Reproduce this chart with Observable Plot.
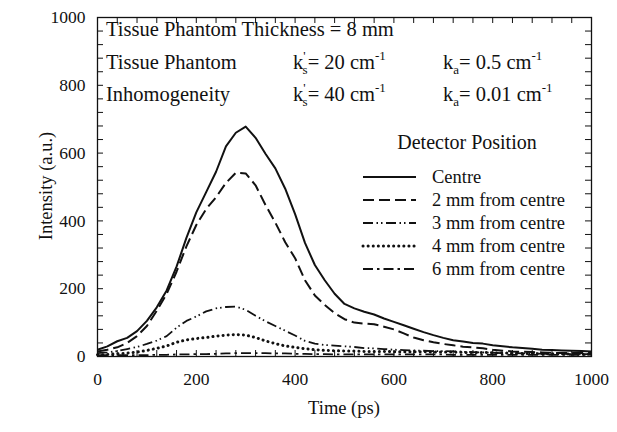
<!DOCTYPE html>
<html><head><meta charset="utf-8">
<script src="https://cdn.jsdelivr.net/npm/d3@7"></script>
<script src="https://cdn.jsdelivr.net/npm/@observablehq/plot@0.6"></script>
<style>
html,body{margin:0;padding:0;background:#fff;}
</style>
</head><body><div id="chart"></div>
<script>
// Data
const time = [0,20,40,60,80,100,120,140,160,180,200,220,240,260,280,300,320,340,360,380,400,420,440,460,480,500,520,540,560,580,600,620,640,660,680,700,720,740,760,780,800,820,840,860,880,900,920,940,960,980,1000];
const centre = [20,30,45,55,75,105,145,195,265,350,425,485,545,620,660,678,645,598,555,495,420,335,270,225,185,155,142,132,124,112,102,92,82,72,63,55,48,44,40,38,33,30,27,25,23,20,19,18,17,16,15];
const mm2 = [15,20,27,40,60,90,135,185,250,325,388,435,470,512,542,540,505,447,395,337,290,225,180,152,128,110,100,97,95,88,80,68,56,48,42,37,33,29,27,24,20,17,15,14,13,12,11,10,10,10,10];
const mm3 = [10,12,16,22,28,37,47,60,85,105,118,133,142,146,147,138,120,104,90,76,62,46,38,34,32,30,28,25,24,22,20,19,18,17,16,16,15,14,13,12,11,10,10,9,9,8,8,8,7,7,7];
const mm4 = [5,6,8,10,13,18,24,31,42,49,53,56,60,63,65,63,56,46,38,31,27,23,20,18,17,16,16,15,15,15,14,14,14,14,13,13,13,12,12,12,11,10,10,9,9,8,8,8,7,7,7];
const mm6 = [4,4,4,4,4,4,5,5,6,6,7,7,8,9,10,10,10,10,9,9,8,8,7,7,6,6,6,6,6,6,6,6,6,6,6,6,5,5,5,5,5,5,5,5,5,5,5,5,5,5,5];
const seriesNames = ["Centre","2 mm from centre","3 mm from centre","4 mm from centre","6 mm from centre"];
const seriesValues = [centre, mm2, mm3, mm4, mm6];
const xTicks = [0,200,400,600,800,1000];
const yTicks = [0,200,400,600,800,1000];
const minorTicks = d3.range(0, 1001, 40);

const styles = [
  {dash: null, width: 2, cap: "butt"},
  {dash: "11,5", width: 2, cap: "butt"},
  {dash: "10,3.5,1.5,3,1.5,3.5", width: 1.8, cap: "butt"},
  {dash: "0.1,5", width: 3, cap: "round"},
  {dash: "10,4,2.5,4", width: 1.8, cap: "butt"}
];

const tables = seriesValues.map((vals, i) => time.map((t, j) => ({t, v: vals[j], s: seriesNames[i]})));

const FONT = '"Liberation Serif", Tinos, "DejaVu Serif", serif';
const W = 617, H = 432;
const mT = 17, mR = 26, mB = 76, mL = 97;
const fw = W - mL - mR, fh = H - mT - mB;
const TL = 6;

const marks = [
  Plot.frame({stroke: "#111", strokeWidth: 1.3}),
  Plot.tickX(minorTicks, {x: d => d, insetTop: fh - TL, stroke: "#111", strokeWidth: 1}),
  Plot.tickX(minorTicks, {x: d => d, insetBottom: fh - TL, stroke: "#111", strokeWidth: 1}),
  Plot.tickY(minorTicks, {y: d => d, insetRight: fw - TL, stroke: "#111", strokeWidth: 1}),
  Plot.tickY(minorTicks, {y: d => d, insetLeft: fw - TL, stroke: "#111", strokeWidth: 1}),
  Plot.axisX(xTicks, {tickSize: 0, tickPadding: 16, label: null, tickFormat: d => String(d), fontSize: 17.5}),
  Plot.axisY(yTicks, {tickSize: 0, tickPadding: 12, label: null, tickFormat: d => String(d), fontSize: 17.5}),
];
tables.forEach((tb, i) => {
  const st = styles[i];
  const o = {x: "t", y: "v", stroke: "#111", strokeWidth: st.width, strokeLinecap: st.cap, strokeLinejoin: "round"};
  if (st.dash) o.strokeDasharray = st.dash;
  marks.push(Plot.line(tb, o));
});

const chart = Plot.plot({
  width: W, height: H,
  marginTop: mT, marginRight: mR, marginBottom: mB, marginLeft: mL,
  x: {domain: [0, 1000]},
  y: {domain: [0, 1000]},
  style: {fontFamily: FONT, fontSize: "17.5px", color: "#111", background: "#fff"},
  marks
});
document.getElementById("chart").appendChild(chart);

const svg = d3.select(chart);
const g = svg.append("g").attr("font-family", FONT).attr("fill", "#111").attr("text-anchor", "start");

// axis labels
g.append("text").attr("x", 344).attr("y", 414).attr("text-anchor", "middle").attr("font-size", 18.5).text("Time (ps)");
g.append("text").attr("transform", "translate(52,186) rotate(-90)").attr("text-anchor", "middle").attr("font-size", 18.5).text("Intensity (a.u.)");

// annotation
const fs = 20.5, small = 13;
g.append("text").attr("x", 106).attr("y", 36).attr("font-size", fs).text("Tissue Phantom Thickness = 8 mm");
function kline(y, label, ks, ka) {
  g.append("text").attr("x", 106).attr("y", y).attr("font-size", fs).text(label);
  const t1 = g.append("text").attr("x", 293).attr("y", y).attr("font-size", fs);
  t1.append("tspan").text("k");
  t1.append("tspan").attr("font-size", small).attr("dy", -9).text("'");
  t1.append("tspan").attr("font-size", small).attr("dx", -3).attr("dy", 14).text("s");
  t1.append("tspan").attr("dy", -5).text("= " + ks + " cm");
  t1.append("tspan").attr("font-size", small).attr("dy", -9).text("-1");
  const t2 = g.append("text").attr("x", 443).attr("y", y).attr("font-size", fs);
  t2.append("tspan").text("k");
  t2.append("tspan").attr("font-size", small).attr("dy", 5).text("a");
  t2.append("tspan").attr("dy", -5).text("= " + ka + " cm");
  t2.append("tspan").attr("font-size", small).attr("dy", -9).text("-1");
}
kline(69, "Tissue Phantom", 20, 0.5);
kline(101, "Inhomogeneity", 40, 0.01);

// legend
g.append("text").attr("x", 467).attr("y", 149).attr("text-anchor", "middle").attr("font-size", 20).text("Detector Position");
const rowY = [177, 200, 223, 246, 269];
seriesNames.forEach((name, i) => {
  const st = styles[i];
  const ln = g.append("line").attr("x1", 363).attr("x2", 416).attr("y1", rowY[i]).attr("y2", rowY[i])
    .attr("stroke", "#111").attr("stroke-width", st.width).attr("stroke-linecap", st.cap);
  if (st.dash) ln.attr("stroke-dasharray", st.dash);
  g.append("text").attr("x", 432).attr("y", rowY[i] + 6).attr("font-size", 18.5).text(name);
});
</script>
</body></html>
